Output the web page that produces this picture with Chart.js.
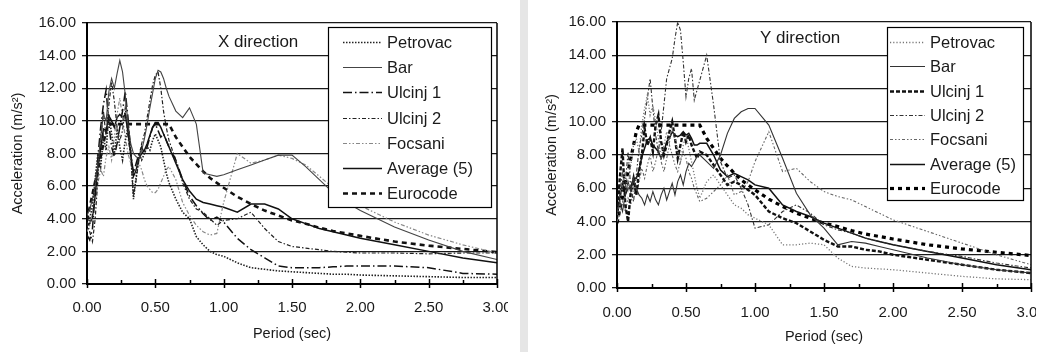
<!DOCTYPE html>
<html>
<head>
<meta charset="utf-8">
<script src="https://cdn.jsdelivr.net/npm/chart.js@4.4.0/dist/chart.umd.min.js"></script>
<style>
  html, body { margin: 0; padding: 0; background: #fff; }
  body { width: 1047px; height: 352px; position: relative; overflow: hidden; }
  canvas { position: absolute; top: 0; }
  #chartX { left: 0; }
  #chartY { left: 528px; }
  #divider { position: absolute; left: 520px; top: 0; width: 8px; height: 352px; background: #e6e6e6; }
</style>
</head>
<body>
<canvas id="chartX" width="508" height="352"></canvas>
<div id="divider"></div>
<canvas id="chartY" width="508" height="352"></canvas>
<script>
const FONT = '"Liberation Sans", Arial, sans-serif';

// spectral periods (sec) shared by every curve
const periods = [
  0, 0.02, 0.04, 0.06, 0.08, 0.1, 0.12, 0.14, 0.16, 0.18,
  0.2, 0.22, 0.24, 0.26, 0.28, 0.3, 0.32, 0.34, 0.36, 0.38,
  0.4, 0.42, 0.44, 0.46, 0.48, 0.5, 0.52, 0.54, 0.56, 0.58,
  0.6, 0.65, 0.7, 0.75, 0.8, 0.85, 0.9, 0.95, 1.0,
  1.1, 1.2, 1.3, 1.4, 1.5, 1.6, 1.7, 1.8, 1.9, 2.0,
  2.25, 2.5, 2.75, 3.0
];

const seriesNames = ['Petrovac', 'Bar', 'Ulcinj 1', 'Ulcinj 2', 'Focsani', 'Average (5)', 'Eurocode'];

// X direction spectra (m/s2)
const xPetrovac = [
  3.5, 4.0, 4.8, 6.5, 8.0, 7.2, 9.0, 8.2, 10.4, 9.2,
  8.0, 9.4, 8.4, 7.6, 8.8, 9.6, 8.2, 5.2, 6.6, 8.0,
  7.6, 8.0, 8.4, 8.2, 8.8, 9.2, 8.8, 8.4, 7.6, 6.8,
  6.2, 5.2, 4.4, 4.0, 2.9, 2.4, 2.0, 1.8, 1.7,
  1.3, 1.0, 0.9, 0.8, 0.75, 0.7, 0.65, 0.6, 0.6, 0.55,
  0.5, 0.45, 0.4, 0.4
];
const xBar = [
  4.2, 4.6, 5.2, 6.0, 7.4, 9.0, 10.4, 10.0, 11.8, 12.6,
  12.0, 12.9, 13.7, 13.0, 11.6, 9.8, 8.6, 8.0, 7.8, 7.7,
  8.2, 8.9, 9.8, 10.8, 11.7, 12.6, 13.1, 13.0, 12.6, 12.0,
  11.5, 10.6, 10.2, 10.8, 9.8, 6.8, 6.7, 6.6, 6.7,
  7.0, 7.3, 7.6, 7.9, 7.9, 7.2, 6.4, 5.6, 5.0, 4.5,
  3.5, 2.7, 2.0, 1.5
];
const xUlcinj1 = [
  3.0, 2.7, 3.4, 5.6, 7.8, 9.6, 11.0, 11.9, 9.8, 8.4,
  7.8, 8.6, 9.6, 10.6, 11.8, 10.2, 8.0, 6.8, 7.4, 8.0,
  8.4, 8.0, 8.4, 9.0, 9.6, 9.8, 9.4, 9.0, 9.2, 8.8,
  8.4, 7.6, 6.4, 5.4, 4.8, 4.3, 3.9, 4.1, 3.8,
  2.8, 2.1, 1.6, 1.1, 1.0, 1.0, 1.0, 1.05, 1.1, 1.1,
  1.1, 1.0, 0.65, 0.6
];
const xUlcinj2 = [
  3.8, 3.2, 2.6, 4.0, 6.5, 8.8, 10.6, 9.0, 11.0, 12.4,
  11.2, 9.6, 8.8, 9.4, 10.8, 9.0, 7.8, 5.4, 6.4, 7.6,
  8.6, 9.2, 10.2, 11.2, 12.2, 12.8, 13.0, 12.0, 10.6, 9.6,
  8.8, 7.6, 6.2, 5.2, 4.6, 4.4, 4.0, 3.6, 3.9,
  4.0, 4.4, 3.4, 2.6, 2.3, 2.2, 2.1, 2.0, 1.95, 1.9,
  1.9, 1.85, 1.9, 1.9
];
const xFocsani = [
  3.2, 3.6, 4.4, 5.0, 6.2, 7.0, 6.6, 7.8, 8.4, 7.6,
  9.0, 10.4, 11.4, 10.2, 9.0, 8.0, 7.4, 6.8, 7.0, 7.4,
  7.0, 6.4, 6.0, 5.8, 5.6, 5.6, 5.8, 6.2, 6.6, 7.0,
  7.2, 6.4, 5.0, 4.2, 3.6, 3.2, 3.0, 3.1, 5.0,
  8.0, 7.4, 7.6, 7.9, 7.7, 7.3, 6.6, 5.9, 5.3, 4.8,
  3.8, 3.0, 2.4, 1.9
];
const xAverage = [
  3.6, 3.7, 4.1, 5.4, 7.2, 8.3, 9.5, 9.4, 10.3, 10.0,
  9.6, 10.2, 10.4, 10.2, 10.4, 9.3, 8.0, 6.6, 7.0, 7.7,
  8.0, 8.2, 8.6, 9.1, 9.6, 9.9, 9.9, 9.6, 9.2, 8.8,
  8.4, 7.4, 6.4, 5.7, 5.2, 5.0, 4.9, 4.8, 4.7,
  4.4, 4.9, 4.9, 4.6, 4.0, 3.7, 3.4, 3.2, 3.0, 2.8,
  2.4, 2.0, 1.6, 1.3
];

// Y direction spectra (m/s2)
const yPetrovac = [
  4.4, 5.0, 6.2, 7.0, 6.0, 7.4, 8.6, 9.0, 8.2, 9.8,
  10.8, 11.6, 10.4, 11.0, 10.0, 9.0, 7.8, 8.6, 9.4, 8.8,
  9.6, 9.0, 8.2, 7.6, 8.6, 9.2, 8.4, 7.6, 6.8, 6.0,
  5.4, 6.4, 6.8, 6.2, 5.6, 5.0, 4.8, 4.4, 4.2,
  3.8, 2.6, 2.6, 2.7, 2.6, 1.8, 1.3, 1.2, 1.15, 1.1,
  0.9, 0.7, 0.55, 0.5
];
const yBar = [
  4.6, 5.2, 4.6, 5.6, 6.4, 5.8, 6.6, 6.0, 5.6, 5.4,
  5.0, 5.6, 5.2, 5.8, 5.3, 5.0, 5.6, 6.0, 5.3, 5.8,
  6.3, 5.6, 6.4, 6.8, 6.2, 7.0, 7.5, 7.3, 7.6, 7.9,
  8.0, 7.6, 7.2, 8.0, 9.3, 10.2, 10.6, 10.8, 10.8,
  9.8, 7.8, 5.7, 4.4, 3.6, 2.6, 2.8, 2.7, 2.5, 2.3,
  1.8, 1.4, 1.1, 0.9
];
const yUlcinj1 = [
  4.2, 6.6, 8.4, 5.0, 4.0, 5.8, 6.6, 5.6, 7.0, 8.0,
  9.6, 8.6, 9.0, 8.2, 9.8, 10.4, 8.8, 8.0, 8.6, 9.4,
  10.0, 9.0, 7.8, 8.6, 9.4, 8.8, 9.2, 8.6, 8.2, 7.8,
  8.2, 8.0, 7.4, 6.8, 6.2, 6.4, 6.2, 5.9, 5.6,
  4.6, 4.2, 3.9, 3.4, 2.9, 2.5, 2.5, 2.3, 2.2, 2.0,
  1.7, 1.4, 1.1, 0.9
];
const yUlcinj2 = [
  4.4, 5.6, 7.0, 6.2, 8.2, 6.0, 5.2, 6.8, 8.4, 9.2,
  10.2, 11.4, 12.6, 10.8, 9.2, 8.2, 9.4, 11.0, 12.6, 13.2,
  13.8, 15.0, 16.0, 15.5, 13.6, 11.5, 12.6, 13.2, 11.3, 11.9,
  12.5, 14.0, 11.0, 7.6, 6.6, 6.8, 6.0, 5.0, 3.6,
  3.8, 4.6, 5.0, 4.5, 3.8, 3.5, 3.3, 3.0, 2.8, 2.6,
  2.2, 1.9, 1.5, 1.2
];
const yFocsani = [
  4.0, 4.4, 5.2, 4.6, 5.4, 5.0, 6.0, 5.6, 6.4, 7.2,
  6.6, 7.4, 8.0, 7.0, 7.6, 8.4, 7.6, 7.0, 7.8, 8.6,
  8.0, 7.4, 7.0, 7.6, 8.2, 7.8, 7.0, 6.6, 6.0, 5.6,
  5.2, 5.4, 5.8, 6.2, 6.8, 5.6, 5.8, 6.4, 7.6,
  9.4, 7.0, 7.2, 6.4, 5.8, 5.5, 5.3, 4.9, 4.5, 4.1,
  3.4, 2.7, 2.0, 1.4
];
const yAverage = [
  4.3, 5.3, 6.3, 5.6, 6.0, 6.0, 6.6, 6.6, 7.1, 7.9,
  8.4, 8.9, 9.0, 8.6, 8.4, 8.2, 7.8, 8.2, 8.8, 9.0,
  9.4, 9.2, 9.1, 9.2, 9.4, 9.2, 9.3, 9.0, 8.6, 8.6,
  8.7, 8.7, 8.0, 7.1, 6.7, 6.9, 6.7, 6.5, 6.2,
  6.0, 5.0, 4.6, 4.3, 3.9, 3.6, 3.3, 3.0, 2.8, 2.6,
  2.2, 1.8, 1.4, 1.1
];

// design spectrum, same in both directions
const eurocode = [
  3.9, 4.7, 5.5, 6.3, 7.0, 7.8, 8.6, 9.4, 9.8, 9.8,
  9.8, 9.8, 9.8, 9.8, 9.8, 9.8, 9.8, 9.8, 9.8, 9.8,
  9.8, 9.8, 9.8, 9.8, 9.8, 9.8, 9.8, 9.8, 9.8, 9.8,
  9.8, 9.0, 8.4, 7.8, 7.35, 6.9, 6.5, 6.2, 5.9,
  5.35, 4.9, 4.5, 4.2, 3.9, 3.7, 3.45, 3.25, 3.1, 2.95,
  2.6, 2.35, 2.15, 1.95
];

// line styles, in seriesNames order
const xStyles = [
  { color: '#222', width: 1.6, dash: [1.5, 1.5] },
  { color: '#444', width: 1.1, dash: [] },
  { color: '#111', width: 1.5, dash: [9, 3, 1.5, 3] },
  { color: '#222', width: 1.2, dash: [4, 2, 1.5, 2] },
  { color: '#888', width: 1.2, dash: [4, 2, 1.5, 2, 1.5, 2] },
  { color: '#111', width: 1.5, dash: [] },
  { color: '#111', width: 2.6, dash: [5, 4] }
];
const yStyles = [
  { color: '#777', width: 1.3, dash: [1.2, 2] },
  { color: '#333', width: 1.1, dash: [] },
  { color: '#111', width: 2.4, dash: [4, 2] },
  { color: '#333', width: 1.1, dash: [4, 2, 1.5, 2] },
  { color: '#666', width: 1.1, dash: [3, 2, 1.5, 2, 1.5, 2] },
  { color: '#111', width: 1.5, dash: [] },
  { color: '#000', width: 3.2, dash: [4, 4] }
];

function points(values) {
  return values.map((v, i) => ({ x: periods[i], y: v }));
}

function buildDatasets(seriesValues, styles) {
  return seriesNames.map((name, i) => ({
    label: name,
    data: points(seriesValues[i]),
    borderColor: styles[i].color,
    borderWidth: styles[i].width,
    borderDash: styles[i].dash,
    pointRadius: 0,
    fill: false,
    tension: 0
  }));
}

// boxed legend inside the plot, plus the right frame line, x tick marks and the direction caption
const plotDecor = {
  id: 'plotDecor',
  afterDatasetsDraw(chart, args, opts) {
    const ctx = chart.ctx;
    const lg = opts.legend;
    ctx.save();
    ctx.fillStyle = '#fff';
    ctx.fillRect(lg.x, lg.y, lg.w, lg.h);
    ctx.strokeStyle = '#000';
    ctx.lineWidth = 1.2;
    ctx.strokeRect(lg.x + 0.5, lg.y + 0.5, lg.w, lg.h);
    ctx.font = `${lg.fontSize}px ${FONT}`;
    ctx.textBaseline = 'middle';
    ctx.textAlign = 'left';
    chart.data.datasets.forEach((ds, i) => {
      const cy = Math.round(lg.first + i * lg.row) + 0.5;
      ctx.strokeStyle = ds.borderColor;
      ctx.lineWidth = ds.borderWidth;
      ctx.setLineDash(ds.borderDash);
      ctx.beginPath();
      ctx.moveTo(lg.x + lg.sample[0], cy);
      ctx.lineTo(lg.x + lg.sample[1], cy);
      ctx.stroke();
      ctx.setLineDash([]);
      ctx.fillStyle = '#1a1a1a';
      ctx.fillText(ds.label, lg.x + lg.textX, cy + 1);
    });
    ctx.restore();
  },
  afterDraw(chart, args, opts) {
    const { ctx, chartArea: a } = chart;
    const xs = chart.scales.x;
    ctx.save();
    ctx.strokeStyle = '#000';
    ctx.lineWidth = 1.5;
    ctx.beginPath();
    ctx.moveTo(a.right, a.top);
    ctx.lineTo(a.right, a.bottom);
    ctx.stroke();
    // majors cross the axis, minors sit on the inside
    xs.ticks.forEach((t) => {
      const px = Math.round(xs.getPixelForValue(t.value)) + 0.5;
      const major = Math.round(t.value * 100) % 50 === 0;
      ctx.beginPath();
      ctx.moveTo(px, a.bottom - (major ? 5 : 4));
      ctx.lineTo(px, a.bottom + (major ? 4 : 0));
      ctx.stroke();
    });
    ctx.fillStyle = '#1a1a1a';
    ctx.font = `17px ${FONT}`;
    ctx.textBaseline = 'middle';
    ctx.textAlign = 'left';
    ctx.fillText(opts.caption.text, opts.caption.x, opts.caption.y);
    ctx.restore();
  }
};

function makeChart(canvasId, seriesValues, styles, cfg) {
  const tickFont = { family: FONT, size: 15 };
  return new Chart(document.getElementById(canvasId), {
    type: 'line',
    data: { datasets: buildDatasets(seriesValues, styles) },
    options: {
      responsive: false,
      animation: false,
      devicePixelRatio: 1,
      layout: { padding: { left: 0, top: cfg.top, right: cfg.right, bottom: 0 } },
      plugins: {
        legend: { display: false },
        tooltip: { enabled: false },
        plotDecor: { legend: cfg.legend, caption: cfg.caption }
      },
      scales: {
        x: {
          type: 'linear',
          min: 0,
          max: 3,
          ticks: {
            stepSize: 0.25,
            autoSkip: false,
            maxRotation: 0,
            padding: cfg.xTickPad,
            color: '#1a1a1a',
            font: tickFont,
            callback: (v) => (Math.round(v * 100) % 50 === 0 ? v.toFixed(2) : '')
          },
          grid: { drawOnChartArea: false, drawTicks: true, tickLength: 6, color: 'rgba(0,0,0,0)' },
          border: { color: '#000', width: 2 },
          title: {
            display: true,
            text: 'Period (sec)',
            color: '#1a1a1a',
            font: { family: FONT, size: 14.5 },
            padding: { top: 0, bottom: cfg.xTitlePad }
          },
          afterFit: (s) => {
            s.height = cfg.xHeight;
            s.paddingLeft = 0;
            s.paddingRight = 0;
          }
        },
        y: {
          min: 0,
          max: 16,
          ticks: {
            stepSize: 2,
            padding: 6,
            color: '#1a1a1a',
            font: tickFont,
            callback: (v) => v.toFixed(2)
          },
          grid: { color: '#1a1a1a', lineWidth: 1.3, drawTicks: true, tickLength: 5 },
          border: { color: '#000', width: 2 },
          title: {
            display: true,
            text: 'Acceleration (m/s²)',
            color: '#1a1a1a',
            font: { family: FONT, size: 14.5 },
            padding: { top: cfg.yTitlePad, bottom: 0 }
          },
          afterFit: (s) => {
            s.width = cfg.yWidth;
          }
        }
      }
    },
    plugins: [plotDecor]
  });
}

makeChart('chartX',
  [xPetrovac, xBar, xUlcinj1, xUlcinj2, xFocsani, xAverage, eurocode],
  xStyles,
  {
    top: 23, right: 11, yWidth: 87, xHeight: 68,
    xTickPad: 8.5, xTitlePad: 9.3, yTitlePad: 9.3,
    legend: { x: 328, y: 27, w: 163, h: 180, first: 42, row: 25.2, sample: [15, 54], textX: 59, fontSize: 16.5 },
    caption: { text: 'X direction', x: 218, y: 42 }
  });

makeChart('chartY',
  [yPetrovac, yBar, yUlcinj1, yUlcinj2, yFocsani, yAverage, eurocode],
  yStyles,
  {
    top: 22, right: 5, yWidth: 89, xHeight: 64,
    xTickPad: 9.5, xTitlePad: 6.3, yTitlePad: 15.3,
    legend: { x: 359, y: 27, w: 136, h: 173, first: 42, row: 24.3, sample: [3, 38], textX: 43, fontSize: 16.5 },
    caption: { text: 'Y direction', x: 232, y: 38 }
  });
</script>
</body>
</html>
